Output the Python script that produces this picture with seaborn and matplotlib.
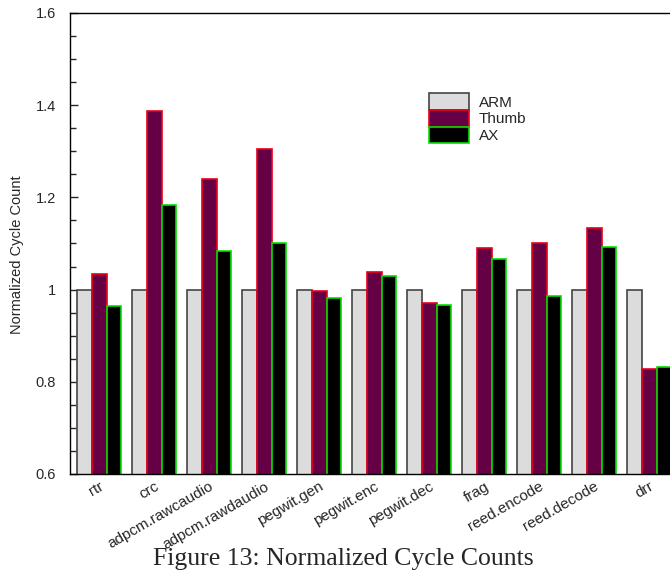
import pandas as pd
import seaborn as sns
import matplotlib.pyplot as plt
from matplotlib.patches import Patch
from matplotlib.ticker import MultipleLocator


sns.set_theme(style="white")
plt.rcParams['font.family'] = ['Liberation Sans', 'DejaVu Sans']

benchmarks = ['rtr', 'crc', 'adpcm.rawcaudio', 'adpcm.rawdaudio', 'pegwit.gen',
              'pegwit.enc', 'pegwit.dec', 'frag', 'reed.encode', 'reed.decode', 'drr']
arm = [1, 1, 1, 1, 1, 1, 1, 1, 1, 1, 1]
thumb = [1.034, 1.388, 1.239, 1.304, 0.998, 1.038, 0.971, 1.090, 1.100, 1.133, 0.828]
ax_vals = [0.965, 1.184, 1.083, 1.102, 0.981, 1.029, 0.966, 1.066, 0.986, 1.092, 0.831]
series = ['ARM', 'Thumb', 'AX']

fills = {'ARM': '#dcdcdc', 'Thumb': '#660044', 'AX': '#000000'}
edges = {'ARM': '#444444', 'Thumb': '#e8001c', 'AX': '#00e000'}

df = pd.DataFrame({'benchmark': benchmarks * 3,
                   'value': arm + thumb + ax_vals,
                   'series': [s for s in series for _ in benchmarks]})

fig = plt.figure(figsize=(6.7, 5.75), dpi=100)
ax = fig.add_axes([0.1045, 0.1757, 0.9015, 0.8017])

sns.barplot(data=df, x='benchmark', y='value', hue='series', palette=fills,
            width=0.8, saturation=1, legend=False, ax=ax)
for cont, s in zip(ax.containers, series):
    for bar in cont:
        bar.set_edgecolor(edges[s])
        bar.set_linewidth(1.2)

ax.set_ylim(0.6, 1.6)
ax.set_xlim(-0.53, 10.45)
ax.yaxis.set_minor_locator(MultipleLocator(0.05))
ax.set_yticks([0.6, 0.8, 1.0, 1.2, 1.4, 1.6])
ax.set_yticklabels(['0.6', '0.8', '1', '1.2', '1.4', '1.6'], fontsize=10.5)
ax.tick_params(axis='y', which='major', direction='in', length=6, width=1, left=True, pad=10)
ax.tick_params(axis='y', which='minor', direction='in', length=4, width=1, left=True)
ax.tick_params(axis='x', length=0, pad=4)
ax.set_xticks(range(len(benchmarks)))
ax.set_xticklabels(benchmarks, rotation=30, ha='right', rotation_mode='anchor', fontsize=11)
ax.set_xlabel('')
ax.set_ylabel('Normalized Cycle Count', fontsize=10.5)
ax.yaxis.set_label_coords(-0.076, 0.475)
for side in ['left', 'bottom', 'top', 'right']:
    ax.spines[side].set_color('black')
    ax.spines[side].set_linewidth(1)

handles = [Patch(facecolor=fills[s], edgecolor=edges[s], linewidth=1.2) for s in series]
ax.legend(handles, series, loc='upper left', bbox_to_anchor=(0.595, 0.826),
          frameon=False, fontsize=11, handlelength=2.6, handleheight=1.3,
          labelspacing=0.0, handletextpad=0.65, borderaxespad=0, borderpad=0)

fig.text(0.513, 0.0174, 'Figure 13: Normalized Cycle Counts', ha='center', va='baseline',
         fontsize=18.5, family=['Liberation Serif', 'DejaVu Serif'])

fig.savefig('out.png', dpi=100)
